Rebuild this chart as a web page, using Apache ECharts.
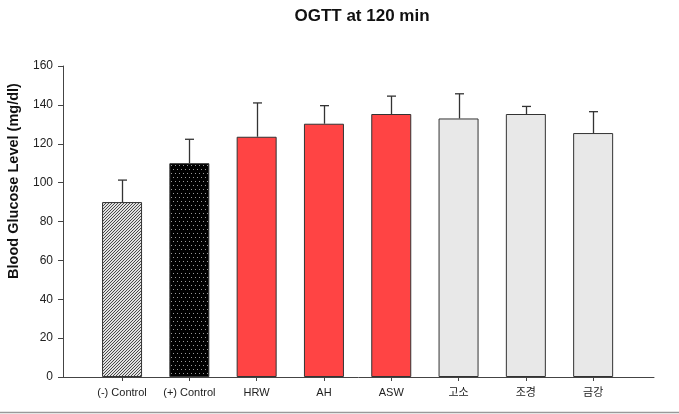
<!DOCTYPE html>
<html>
<head>
<meta charset="utf-8">
<script src="https://cdn.jsdelivr.net/npm/echarts@6/dist/echarts.min.js"></script>
<style>html,body{margin:0;padding:0;background:#fff}#c{width:679px;height:414px}</style>
</head>
<body>
<div id="c"></div>
<script>
var categories = ['(-) Control', '(+) Control', 'HRW', 'AH', 'ASW', '고소', '조경', '금강'];
var means = [90, 110, 123.6, 130.3, 135.3, 133, 135.3, 125.5];
var upper = [101.3, 122.3, 141, 139.6, 144.5, 145.7, 139.2, 136.5];
var yTicks = [0, 20, 40, 60, 80, 100, 120, 140, 160];

function hatch() {
  var c = document.createElement('canvas'); c.width = 3; c.height = 3;
  var g = c.getContext('2d');
  g.fillStyle = '#e2e2e2'; g.fillRect(0, 0, 3, 3);
  g.fillStyle = '#4a4a4a';
  for (var i = 0; i < 3; i++) { g.fillRect(i, 2 - i, 1, 1); }
  return c;
}
function dots() {
  var c = document.createElement('canvas'); c.width = 8; c.height = 8;
  var g = c.getContext('2d');
  g.fillStyle = '#000'; g.fillRect(0, 0, 8, 8);
  g.fillStyle = '#9a9a9a';
  g.fillRect(1, 1, 1, 1); g.fillRect(5, 1, 1, 1);
  g.fillRect(3, 5, 1, 1); g.fillRect(7, 5, 1, 1);
  return c;
}
var fills = [
  {image: hatch(), repeat: 'repeat'},
  {image: dots(), repeat: 'repeat'},
  '#ff4444', '#ff4444', '#ff4444',
  '#e8e8e8', '#e8e8e8', '#e8e8e8'
];

var chart = echarts.init(document.getElementById('c'));
chart.setOption({
  animation: false,
  title: {
    text: 'OGTT at 120 min', left: 357, top: 3, textAlign: 'center',
    textStyle: {fontFamily: 'Liberation Sans, Arial, sans-serif', fontSize: 17, fontWeight: 'bold', color: '#111'}
  },
  graphic: [
    {type: 'text', x: 14, y: 181, rotation: Math.PI / 2,
     style: {text: 'Blood Glucose Level (mg/dl)', font: 'bold 14.5px "Liberation Sans", Arial, sans-serif',
             fill: '#111', textAlign: 'center', textVerticalAlign: 'middle'}},
    {type: 'line', shape: {x1: 0, y1: 412.5, x2: 679, y2: 412.5}, style: {stroke: '#999', lineWidth: 1.5}}
  ],
  grid: [
    {left: 63, right: 25, top: 66, bottom: 37},
    {left: 88.4, right: 52.2, top: 66, bottom: 37}
  ],
  xAxis: [
    {type: 'value', gridIndex: 0, min: 0, max: 1, axisLine: {show: true, onZero: false, lineStyle: {color: '#444', width: 1}},
     axisTick: {show: false}, axisLabel: {show: false}, splitLine: {show: false}},
    {type: 'category', gridIndex: 1, data: categories, axisLine: {show: false},
     axisTick: {show: true, alignWithLabel: true, interval: 0, length: 4, lineStyle: {color: '#444'}},
     axisLabel: {interval: 0, margin: 10, fontSize: 11, color: '#222', fontFamily: 'Liberation Sans, Arial, "Noto Sans CJK KR", sans-serif'}}
  ],
  yAxis: [
    {type: 'value', gridIndex: 0, min: 0, max: 160, interval: 20,
     axisLine: {show: true, lineStyle: {color: '#444', width: 1}},
     axisTick: {show: true, length: 5, lineStyle: {color: '#444'}},
     axisLabel: {margin: 10, fontSize: 12, color: '#222', fontFamily: 'Liberation Sans, Arial, sans-serif',
                 customValues: yTicks},
     splitLine: {show: false}},
    {type: 'value', gridIndex: 1, min: 0, max: 160, interval: 20, show: false, splitLine: {show: false}}
  ],
  series: [
    {type: 'bar', xAxisIndex: 1, yAxisIndex: 1, barWidth: 40, z: 2,
     data: means.map(function (v, i) {
       return {value: v, itemStyle: {color: fills[i], borderColor: '#333', borderWidth: 1}};
     })},
    {type: 'custom', xAxisIndex: 1, yAxisIndex: 1, z: 3,
     data: means.map(function (v, i) { return [i, v, upper[i]]; }),
     renderItem: function (params, api) {
       var p0 = api.coord([api.value(0), api.value(1)]);
       var p1 = api.coord([api.value(0), api.value(2)]);
       var x = Math.round(p0[0]) + 0.5;
       return {type: 'group', children: [
         {type: 'line', shape: {x1: x, y1: p0[1], x2: x, y2: p1[1]}, style: {stroke: '#333', lineWidth: 1.3}},
         {type: 'line', shape: {x1: x - 4.5, y1: p1[1], x2: x + 4.5, y2: p1[1]}, style: {stroke: '#333', lineWidth: 1.3}}
       ]};
     }}
  ]
});
</script>
</body>
</html>
